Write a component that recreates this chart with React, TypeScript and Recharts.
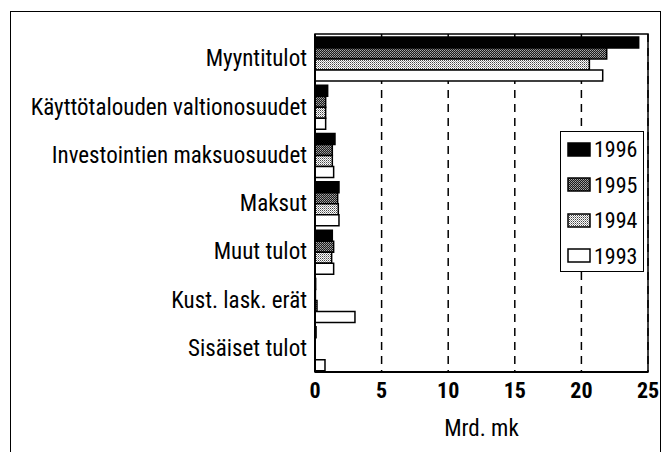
import React from 'react'
import { BarChart, Bar, XAxis, YAxis, CartesianGrid, ReferenceArea } from 'recharts'

// Tulot tuloluokittain, Mrd. mk
const categories = [
  'Myyntitulot',
  'Käyttötalouden valtionosuudet',
  'Investointien maksuosuudet',
  'Maksut',
  'Muut tulot',
  'Kust. lask. erät',
  'Sisäiset tulot',
]
const v1996 = [24.3, 0.95, 1.5, 1.8, 1.3, 0.05, 0.08]
const v1995 = [21.9, 0.8, 1.3, 1.7, 1.4, 0.03, 0]
const v1994 = [20.6, 0.8, 1.3, 1.75, 1.25, 0.15, 0]
const v1993 = [21.6, 0.8, 1.4, 1.8, 1.4, 3.0, 0.75]
const xTicks = [0, 5, 10, 15, 20, 25]

const years = [
  { key: 'y1996', name: '1996', fill: '#000' },
  { key: 'y1995', name: '1995', fill: 'url(#dark)' },
  { key: 'y1994', name: '1994', fill: 'url(#light)' },
  { key: 'y1993', name: '1993', fill: '#fff' },
]

const data = categories.map((name, i) => ({
  name,
  y1996: v1996[i],
  y1995: v1995[i],
  y1994: v1994[i],
  y1993: v1993[i],
}))

const font = "'Liberation Sans Narrow', 'Roboto Condensed', 'DejaVu Sans Condensed', sans-serif"

const Patterns = () => (
  <>
    <pattern id="dark" width={2} height={2} patternUnits="userSpaceOnUse">
      <rect width={2} height={2} fill="#1a1a1a" />
      <rect x={0} y={0} width={1} height={1} fill="#aaa" />
      <rect x={1} y={1} width={1} height={1} fill="#888" />
    </pattern>
    <pattern id="light" width={2} height={2} patternUnits="userSpaceOnUse">
      <rect width={2} height={2} fill="#fff" />
      <rect x={0} y={0} width={1} height={1} fill="#444" />
      <rect x={1} y={1} width={1} height={1} fill="#999" />
    </pattern>
  </>
)

const LegendBox = () => (
  <div
    style={{
      position: 'absolute',
      left: 560,
      top: 131,
      border: '1.5px solid #000',
      background: '#fff',
      width: 84,
      height: 141,
      boxSizing: 'border-box',
      padding: '0 0 0 6px',
      fontFamily: font,
      fontSize: 22,
    }}
  >
    {years.map((y) => (
      <div key={y.key} style={{ display: 'flex', alignItems: 'center', height: 35.5 }}>
        <svg width={25} height={16} style={{ marginRight: 2 }}>
          <rect x={1} y={1} width={22} height={13} fill={y.fill} stroke="#000" strokeWidth={1.5} />
        </svg>
        <span>{y.name}</span>
      </div>
    ))}
  </div>
)

export default function App() {
  return (
    <div style={{ position: 'absolute', left: 0, top: 0, width: 672, height: 452, background: '#fff', overflow: 'hidden' }}>
      <div
        style={{
          position: 'absolute',
          left: 10,
          top: 11,
          width: 651,
          height: 460,
          borderLeft: '1.5px solid #000',
          borderTop: '1.5px solid #000',
          borderRight: '1.5px solid #000',
          boxSizing: 'border-box',
        }}
      />
      <BarChart
        width={672}
        height={452}
        data={data}
        layout="vertical"
        margin={{ top: 34, right: 24, bottom: 20, left: 0 }}
        barCategoryGap={3}
        barGap={0}
        style={{ position: 'absolute', left: 0, top: 0, fontFamily: font }}
      >
        <defs>
          <Patterns />
        </defs>
        <CartesianGrid horizontal={false} stroke="#000" strokeWidth={1.5} strokeDasharray="8 6" />
        <ReferenceArea x1={0} x2={25} fill="none" stroke="#000" strokeWidth={1.5} ifOverflow="visible" />
        <XAxis
          type="number"
          domain={[0, 25]}
          ticks={xTicks}
          tickLine={false}
          axisLine={{ stroke: '#000', strokeWidth: 2 }}
          tick={{ fill: '#000', fontSize: 22, fontWeight: 700 }}
          tickMargin={4}
          height={60}
          label={{ value: 'Mrd. mk', position: 'insideBottom', offset: -4, fill: '#000', fontSize: 23 }}
        />
        <YAxis
          type="category"
          dataKey="name"
          width={315}
          tickLine={false}
          axisLine={{ stroke: '#000', strokeWidth: 2 }}
          tick={{ fill: '#000', fontSize: 23 }}
          tickMargin={2}
          interval={0}
        />
        {years.map((y) => (
          <Bar
            key={y.key}
            dataKey={y.key}
            name={y.name}
            fill={y.fill}
            stroke="#000"
            strokeWidth={1.5}
            isAnimationActive={false}
          />
        ))}
      </BarChart>
      <svg width={0} height={0} style={{ position: 'absolute' }}>
        <defs>
          <Patterns />
        </defs>
      </svg>
      <LegendBox />
    </div>
  )
}
